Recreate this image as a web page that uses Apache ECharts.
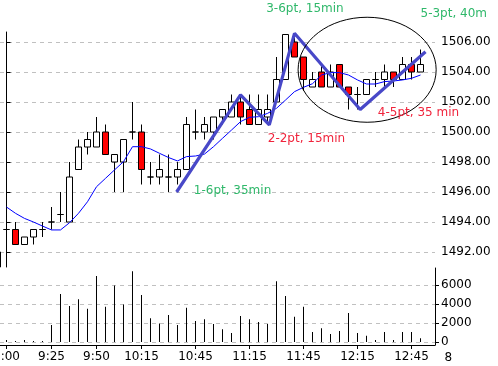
<!DOCTYPE html>
<html>
<head>
<meta charset="utf-8">
<script src="https://cdn.jsdelivr.net/npm/echarts@6/dist/echarts.min.js"></script>
<style>html,body{margin:0;padding:0;background:#fff}#main{width:498px;height:366px}</style>
</head>
<body>
<div id="main"></div>
<script>
// ---- data (5-minute bars; index 0 = 9:00, index -1 = 8:55) ----
const barIndex = [-1,0,1,2,3,4,5,6,7,8,9,10,11,12,13,14,15,16,17,18,19,20,21,22,23,24,25,26,27,28,29,30,31,32,33,34,35,36,37,38,39,40,41,42,43,44,45,46];
const opens  = [1492,1493.5,1493.5,1492.5,1493,1493.5,1494,1494.5,1494,1497.5,1499,1499,1500,1498,1498,1500,1500,1497,1497,1497,1497,1497.5,1500,1500,1500,1501,1501,1502,1501.5,1500.5,1501,1502,1503.5,1506,1505,1503,1504,1503,1504.5,1503,1502.5,1502.5,1503.5,1503.5,1504,1503.5,1504.5,1504];
const closes = [1491,1493.5,1492.5,1493,1493.5,1493.5,1494,1494.5,1497,1499,1499.5,1500,1498.5,1498.5,1499.5,1500,1497.5,1497,1497.5,1497,1497.5,1500.5,1500,1500.5,1501,1501.5,1502,1501,1500.5,1501.5,1501.5,1503.5,1506.5,1505,1503.5,1503.5,1503,1504,1503,1502.5,1502.5,1503.5,1503.5,1504,1503.5,1504.5,1504,1504.5];
const lows   = [1491,1493,1492.5,1492.5,1492.5,1493,1493.5,1494,1494,1497.5,1498.5,1499,1498.5,1496,1496,1499.5,1496.5,1496.5,1496.5,1496,1496.5,1497.5,1499.5,1499.5,1499.5,1500.5,1501,1500.5,1500.5,1500.5,1500.5,1502,1503.5,1505,1502.75,1503,1503,1503,1503,1501.5,1501.5,1502.5,1503,1503,1503,1503.5,1503.5,1504];
const highs  = [1492,1494,1494,1493,1493.5,1494,1495,1496,1498,1499.5,1500,1501,1500.5,1498.5,1499.5,1502,1500.5,1498,1498.5,1498.5,1498,1501,1501.5,1501,1501,1501.5,1502.5,1502.5,1502.5,1502.5,1502.5,1505,1506.5,1506.5,1505,1504,1504.5,1504.5,1504.5,1503,1503,1503.5,1504,1504.5,1504,1505,1505,1505.5];
const volumes = [null,200,100,200,100,100,1800,5050,3800,4500,3500,6950,3700,5950,3950,7450,4950,2500,1950,2850,1800,3600,2200,2400,1900,1350,950,2750,2400,2100,1900,6400,4850,2650,3700,1050,1450,850,1150,3050,950,650,200,1050,200,1050,1050,400];
const maValues = [null,1495.0,1494.58,1494.24,1494.0,1493.73,1493.47,1493.47,1493.95,1494.58,1495.35,1496.35,1496.91,1497.47,1498.02,1499.02,1499.02,1498.87,1498.58,1498.3,1498.07,1498.36,1498.4,1498.53,1499.02,1499.58,1500.13,1500.69,1500.98,1501.02,1501.24,1501.58,1502.13,1502.69,1502.98,1503.22,1503.8,1503.96,1503.96,1503.8,1503.47,1503.2,1503.2,1503.36,1503.4,1503.47,1503.58,1503.8];

// x-axis tick labels
const timeTickIndex = [0,5,10,15,21,27,33,39,45];
const timeTickLabels = ['9:00','9:25','9:50','10:15','10:45','11:15','11:45','12:15','12:45'];
const priceTicks = [1492,1494,1496,1498,1500,1502,1504,1506];
const volumeTicks = [0,2000,4000,6000];

// zigzag swing points [bar index, price]
const swingIndex = [18.9,26,29.2,32,39.3,46.56];
const swingPrice = [1496,1502.47,1500.47,1506.58,1501.5,1505.35];

// annotations
const annoTexts  = ['1-6pt, 35min','2-2pt, 15min','3-6pt, 15min','4-5pt, 35 min','5-3pt, 40m'];
const annoUp     = [true,false,true,false,true];
const annoIndex  = [20.81,29.03,28.86,41.26,46.0];
const annoPrice  = [1496.02,1499.47,1508.13,1501.22,1507.8];

// ---- build ----
const candleData = barIndex.map((x,k)=>[x,opens[k],closes[k],lows[k],highs[k]]);
const volData = barIndex.map((x,k)=>[x,volumes[k]]).filter(d=>d[1]!=null);
const maData = barIndex.map((x,k)=>[x,maValues[k]]).filter(d=>d[1]!=null);
const swingData = swingIndex.map((x,k)=>[x,swingPrice[k]]);

const FONT = 'DejaVu Sans';
const GREEN = '#2fb86a';
const RED = '#f0243c';
const X_MIN = -0.72222, X_MAX = 47.61111;
const labelByIndex = {};
timeTickIndex.forEach((v,k)=>labelByIndex[v]=timeTickLabels[k]);

const chart = echarts.init(document.getElementById('main'), null, {renderer:'canvas'});
const dashed = {show:true, lineStyle:{color:'#c0c0c0', type:[4,4], width:1}};

const option = {
  animation:false,
  backgroundColor:'#ffffff',
  grid:[
    {left:0, right:63, top:32, bottom:99, outerBoundsMode:'none', containLabel:false},
    {left:0, right:63, top:268, bottom:21, outerBoundsMode:'none', containLabel:false}
  ],
  xAxis:[
    {type:'value', gridIndex:0, min:X_MIN, max:X_MAX, show:false, splitLine:{show:false}},
    {type:'value', gridIndex:1, min:X_MIN, max:X_MAX, position:'bottom',
      axisLine:{show:true, onZero:false, lineStyle:{color:'#000', width:1}},
      axisTick:{show:true, length:4, lineStyle:{color:'#000'}, customValues:timeTickIndex},
      axisLabel:{show:true, color:'#000', fontFamily:FONT, fontSize:12, margin:6,
        customValues:timeTickIndex, formatter:v=>labelByIndex[Math.round(v)]||''},
      splitLine:{show:false}}
  ],
  yAxis:[
    {type:'value', gridIndex:0, position:'right', min:1491, max:1506.6667,
      axisLine:{show:true, lineStyle:{color:'#000', width:1}},
      axisTick:{show:true, length:4, lineStyle:{color:'#000'}, customValues:priceTicks},
      axisLabel:{show:true, color:'#000', fontFamily:FONT, fontSize:12, margin:6,
        customValues:priceTicks, formatter:v=>v.toFixed(2)},
      splitLine:dashed},
    {type:'value', gridIndex:1, position:'right', min:-316, max:7790,
      axisLine:{show:true, onZero:false, lineStyle:{color:'#000', width:1}},
      axisTick:{show:true, length:4, lineStyle:{color:'#000'}, customValues:volumeTicks},
      axisLabel:{show:true, color:'#000', fontFamily:FONT, fontSize:12, margin:6,
        customValues:volumeTicks, formatter:v=>String(v)},
      splitLine:dashed}
  ],
  series:[
    {type:'candlestick', xAxisIndex:0, yAxisIndex:0, data:candleData, clip:false,
      encode:{x:0, y:[1,2,3,4]}, barWidth:6,
      itemStyle:{color:'#ffffff', color0:'#ff0000', borderColor:'#000000', borderColor0:'#000000', borderColorDoji:'#000000', borderWidth:1}},
    {type:'line', xAxisIndex:0, yAxisIndex:0, data:maData, showSymbol:false, symbol:'none',
      lineStyle:{color:'#0000ff', width:1}, z:3},
    {type:'line', xAxisIndex:0, yAxisIndex:0, data:swingData, showSymbol:false, symbol:'none',
      lineStyle:{color:'#4848c8', width:3.2}, z:4, clip:false},
    {type:'bar', xAxisIndex:1, yAxisIndex:1, data:volData, barWidth:1,
      itemStyle:{color:'#000000'}}
  ]
};
chart.setOption(option);

// annotations positioned from data coordinates
const graphics = [];
annoTexts.forEach((t,k)=>{
  const p = chart.convertToPixel({gridIndex:0}, [annoIndex[k], annoPrice[k]]);
  graphics.push({type:'text', left:p[0], top:p[1]-7, z:10,
    style:{text:t, fill:annoUp[k]?GREEN:RED, font:'12px "'+FONT+'"'}});
});
const c = chart.convertToPixel({gridIndex:0}, [40.07, 1504.15]);
const e = chart.convertToPixel({gridIndex:0}, [40.07+7.67, 1504.15-3.5]);
graphics.push({type:'ellipse', z:9, shape:{cx:c[0], cy:c[1], rx:Math.abs(e[0]-c[0]), ry:Math.abs(e[1]-c[1])},
  style:{fill:null, stroke:'#000', lineWidth:1}});
const t8 = chart.convertToPixel({gridIndex:1}, [49.1, 0]);
graphics.push({type:'text', left:t8[0]-4, top:352, style:{text:'8', fill:'#000', font:'12px "'+FONT+'"'}});
chart.setOption({graphic:graphics});
</script>
</body>
</html>
